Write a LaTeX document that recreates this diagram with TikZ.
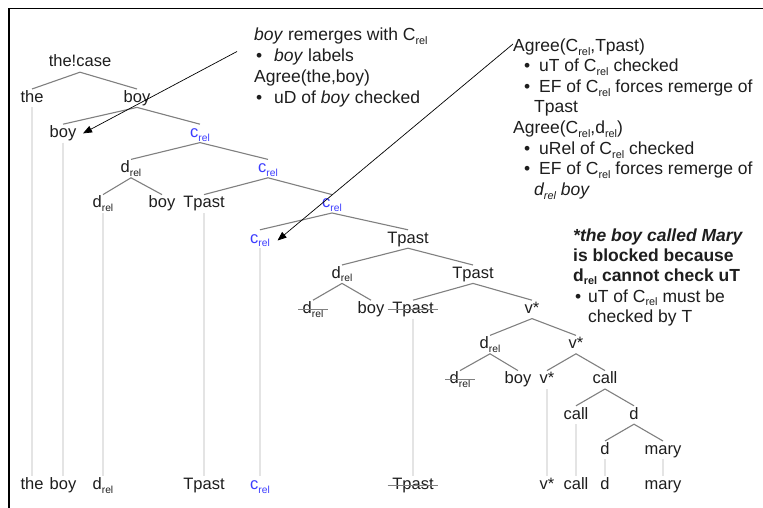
\documentclass[tikz,border=0pt]{standalone}
\usepackage{graphicx}
\usepackage{fontspec}
\setmainfont{Liberation Sans}
\usetikzlibrary{arrows.meta}
\definecolor{txt}{RGB}{30,30,30}
\definecolor{edgecol}{RGB}{128,128,128}
\definecolor{tracecol}{RGB}{228,228,228}
\definecolor{cblue}{RGB}{60,60,255}
\newcommand\rl{\raisebox{-0.22em}{\scalebox{0.62}{rel}}}
\begin{document}
\begin{tikzpicture}[x=1pt,y=-1pt,
  every node/.style={font=\fontsize{16.5}{20}\selectfont, text=txt},
  tn/.style={inner sep=1.5pt,text height=11.5pt,text depth=3.5pt},
  bl/.style={tn,text=cblue},
  ed/.style={draw=edgecol,line width=1.1pt},
  tr/.style={draw=tracecol,line width=2pt},
  st/.style={draw=edgecol,line width=1pt,shorten <=-3pt,shorten >=-3pt},
  arr/.style={draw=black,line width=0.7pt,-{Triangle[length=9pt,width=7pt]}},
  ann/.style={anchor=base west,inner sep=0pt,font=\fontsize{17.5}{21}\selectfont},
]
\useasboundingbox (0,0) rectangle (763,508);
\fill[white] (0,0) rectangle (763,508);
\draw[line width=1.8pt,black] (763,8.6) -- (8.6,8.6) -- (8.6,508);

% tree nodes
\node[tn] (thecase) at (80,63) {the!case};
\node[tn] (the) at (32,98.2) {the};
\node[tn] (boyA) at (137,98.2) {boy};
\node[tn] (boyB) at (63,133.4) {boy};
\node[bl] (crelA) at (200,133.4) {c\rl};
\node[tn] (drelA) at (131,168.6) {d\rl};
\node[bl] (crelB) at (268,168.6) {c\rl};
\node[tn] (drelB) at (103,203.8) {d\rl};
\node[tn] (boyC) at (162,203.8) {boy};
\node[tn] (tpA) at (204,203.8) {Tpast};
\node[bl] (crelC) at (332,203.8) {c\rl};
\node[bl] (crelD) at (260,239) {c\rl};
\node[tn] (tpB) at (408,239) {Tpast};
\node[tn] (drelC) at (342,274.2) {d\rl};
\node[tn] (tpC) at (473,274.2) {Tpast};
\node[tn] (drelD) at (313,309.4) {d\rl};
\node[tn] (boyD) at (371,309.4) {boy};
\node[tn] (tpD) at (413,309.4) {Tpast};
\node[tn] (vA) at (532,309.4) {v*};
\node[tn] (drelE) at (490,344.6) {d\rl};
\node[tn] (vB) at (576,344.6) {v*};
\node[tn] (drelF) at (460,379.8) {d\rl};
\node[tn] (boyE) at (518,379.8) {boy};
\node[tn] (vC) at (547,379.8) {v*};
\node[tn] (callA) at (605,379.8) {call};
\node[tn] (callB) at (576,415) {call};
\node[tn] (dA) at (634,415) {d};
\node[tn] (dB) at (605,450.2) {d};
\node[tn] (maryA) at (663,450.2) {mary};

% bottom row
\node[tn] (theZ) at (32,485.4) {the};
\node[tn] (boyZ) at (63,485.4) {boy};
\node[tn] (drelZ) at (103,485.4) {d\rl};
\node[tn] (tpZ) at (204,485.4) {Tpast};
\node[bl] (crelZ) at (260,485.4) {c\rl};
\node[tn] (tpY) at (413,485.4) {Tpast};
\node[tn] (vZ) at (547,485.4) {v*};
\node[tn] (callZ) at (576,485.4) {call};
\node[tn] (dZ) at (605,485.4) {d};
\node[tn] (maryZ) at (663,485.4) {mary};

% traces
\draw[tr] (the.south) -- (theZ.north);
\draw[tr] (boyB.south) -- (boyZ.north);
\draw[tr] (drelB.south) -- (drelZ.north);
\draw[tr] (tpA.south) -- (tpZ.north);
\draw[tr] (crelD.south) -- (crelZ.north);
\draw[tr] (tpD.south) -- (tpY.north);
\draw[tr] (vC.south) -- (vZ.north);
\draw[tr] (callB.south) -- (callZ.north);
\draw[tr] (dB.south) -- (dZ.north);
\draw[tr] (maryA.south) -- (maryZ.north);

% tree edges
\draw[ed] (the.north) -- (thecase.south) -- (boyA.north);
\draw[ed] (boyB.north) -- (boyA.south) -- (crelA.north);
\draw[ed] (drelA.north) -- (crelA.south) -- (crelB.north);
\draw[ed] (drelB.north) -- (drelA.south) -- (boyC.north);
\draw[ed] (tpA.north) -- (crelB.south) -- (crelC.north);
\draw[ed] (crelD.north) -- (crelC.south) -- (tpB.north);
\draw[ed] (drelC.north) -- (tpB.south) -- (tpC.north);
\draw[ed] (drelD.north) -- (drelC.south) -- (boyD.north);
\draw[ed] (tpD.north) -- (tpC.south) -- (vA.north);
\draw[ed] (drelE.north) -- (vA.south) -- (vB.north);
\draw[ed] (drelF.north) -- (drelE.south) -- (boyE.north);
\draw[ed] (vC.north) -- (vB.south) -- (callA.north);
\draw[ed] (callB.north) -- (callA.south) -- (dA.north);
\draw[ed] (dB.north) -- (dA.south) -- (maryA.north);

% strike-throughs
\draw[st] (drelD.west) -- (drelD.east);
\draw[st] (tpD.west) -- (tpD.east);
\draw[st] (drelF.west) -- (drelF.east);
\draw[st] (tpY.west) -- (tpY.east);

% annotation block 1
\node[ann] (b1a) at (254,40.5) {\textit{boy} remerges with C\rl};
\node[ann] (b1b) at (256,61.5) {•};
\node[ann] (b1c) at (274,61.5) {\textit{boy} labels};
\node[ann] (b1d) at (254,82.5) {Agree(the,boy)};
\node[ann] (b1e) at (256,103.5) {•};
\node[ann] (b1f) at (274,103.5) {uD of \textit{boy} checked};

% annotation block 2
\node[ann] (b2a) at (513,51.5) {Agree(C\rl,Tpast)};
\node[ann] (b2b) at (524,72) {•};
\node[ann] (b2c) at (539,72) {uT of C\rl{} checked};
\node[ann] (b2d) at (524,92.5) {•};
\node[ann] (b2e) at (539,92.5) {EF of C\rl{} forces remerge of};
\node[ann] (b2f) at (534,113) {Tpast};
\node[ann] (b2g) at (513,134) {Agree(C\rl,d\rl)};
\node[ann] (b2h) at (524,154.5) {•};
\node[ann] (b2i) at (539,154.5) {uRel of C\rl{} checked};
\node[ann] (b2j) at (524,175) {•};
\node[ann] (b2k) at (539,175) {EF of C\rl{} forces remerge of};
\node[ann] (b2l) at (534,195.5) {\textit{d\rl\ boy}};

% annotation block 3
\node[ann] (b3a) at (573,241) {\textbf{\textit{*the boy called Mary}}};
\node[ann] (b3b) at (573,261) {\textbf{is blocked because}};
\node[ann] (b3c) at (573,281) {\textbf{d\rl{} cannot check uT}};
\node[ann] (b3d) at (575,302) {•};
\node[ann] (b3e) at (588,302) {uT of C\rl{} must be};
\node[ann] (b3f) at (588,322.5) {checked by T};

% arrows
\coordinate (a1) at (237,51.5);
\draw[arr] (a1) -- ([xshift=5pt]boyB.east);
\coordinate (a2) at (513,44);
\draw[arr] (a2) -- ([xshift=6pt,yshift=-1.5pt]crelD.east);
\end{tikzpicture}
\end{document}
